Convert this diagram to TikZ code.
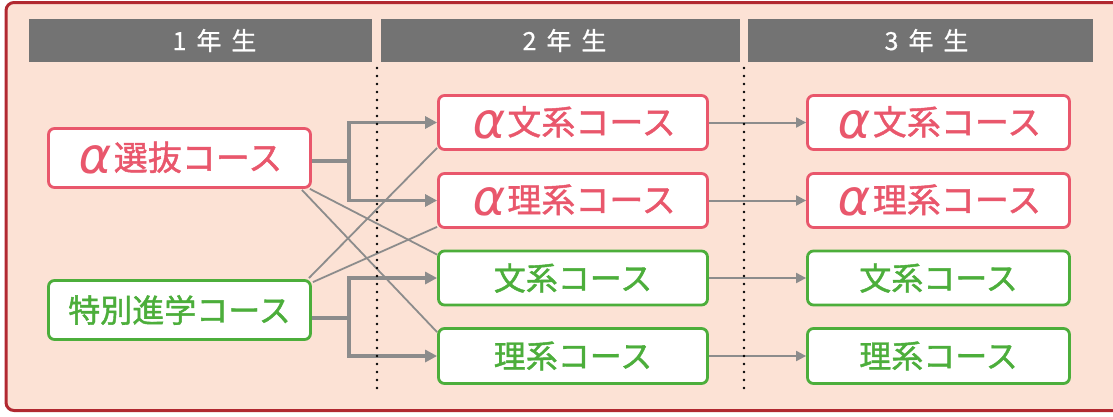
\documentclass[tikz,border=0pt]{standalone}
\usepackage{fontspec}
\setmainfont{Noto Sans CJK JP}
\newfontfamily\boxfont{Noto Sans CJK JP}[FakeBold=1.3]
\newfontfamily\hdrfont{Noto Sans CJK JP}[FakeBold=0.6]
\newfontfamily\alphafont{DejaVu Sans}[FakeSlant=0.18]
\usetikzlibrary{calc,arrows.meta}
\definecolor{pinkc}{HTML}{E9576C}
\definecolor{greenc}{HTML}{4CAE3B}
\definecolor{framec}{HTML}{B12830}
\definecolor{bgc}{HTML}{FCE2D5}
\definecolor{hdrc}{HTML}{737373}
\definecolor{connc}{HTML}{8C8C8C}
\newcommand\alp{{\alphafont\fontsize{50}{50}\selectfont\raisebox{-3.5pt}{α}}\hspace{4pt}}
\pgfdeclarelayer{bglayer}
\pgfdeclarelayer{midlayer}
\pgfsetlayers{bglayer,midlayer,main}
\begin{document}
\begin{tikzpicture}[x=1pt,y=-1pt,
  hdrbar/.style={fill=hdrc, text=white, minimum height=43pt, inner sep=0pt,
    font=\hdrfont\fontsize{25}{25}\selectfont},
  coursebox/.style={line width=2.8pt, fill=white, rounded corners=6pt, inner sep=0pt},
  pinkbox/.style={coursebox, draw=pinkc, text=pinkc, font=\boxfont\fontsize{34}{34}\selectfont},
  greenbox/.style={coursebox, draw=greenc, text=greenc, font=\boxfont\fontsize{32}{32}\selectfont},
  bigline/.style={draw=connc, line width=3.5pt},
  bigarrow/.style={bigline, -{Triangle[length=12pt,width=12pt]}},
  thinarrow/.style={draw=connc, line width=2pt, -{Triangle[length=10pt,width=10pt]}},
  diag/.style={draw=connc, line width=1.8pt},
  dotline/.style={draw=black, line width=2.6pt, dash pattern=on 0pt off 8pt, line cap=round}
]
\useasboundingbox (0,0) rectangle (1113,416);
\begin{pgfonlayer}{bglayer}
  \draw[framec, fill=bgc, line width=3pt, rounded corners=8pt] (6,2.5) rectangle (1125,410.5);
\end{pgfonlayer}

% headers
\node[hdrbar, minimum width=343pt] (h1) at (200.5,40.5) {\hspace*{28pt}1\hspace{0.4em}年\hspace{0.4em}生};
\node[hdrbar, minimum width=359pt] (h2) at (560.5,40.5) {\hspace*{8pt}2\hspace{0.4em}年\hspace{0.4em}生};
\node[hdrbar, minimum width=345pt] (h3) at (920.5,40.5) {\hspace*{12pt}3\hspace{0.4em}年\hspace{0.4em}生};

% year 1
\node[pinkbox, minimum width=262pt, minimum height=59pt] (a1) at (179.5,158) {\alp 選抜コース};
\node[greenbox, minimum width=262pt, minimum height=59pt] (t1) at (179.5,310) {特別進学コース};

% year 2
\node[pinkbox, minimum width=269pt, minimum height=54pt] (m1) at (573,122.5) {\alp 文系コース};
\node[pinkbox, minimum width=269pt, minimum height=54pt] (m2) at (573,200.5) {\alp 理系コース};
\node[greenbox, minimum width=269pt, minimum height=54pt] (m3) at (573,278) {文系コース};
\node[greenbox, minimum width=269pt, minimum height=55pt] (m4) at (573,356) {理系コース};

% year 3
\node[pinkbox, minimum width=262pt, minimum height=54pt] (r1) at (938.5,122.5) {\alp 文系コース};
\node[pinkbox, minimum width=262pt, minimum height=54pt] (r2) at (938.5,200.5) {\alp 理系コース};
\node[greenbox, minimum width=262pt, minimum height=54pt] (r3) at (938.5,278) {文系コース};
\node[greenbox, minimum width=262pt, minimum height=55pt] (r4) at (938.5,356) {理系コース};

\coordinate (e1) at (349,161);
\coordinate (e2) at (349,318);
\coordinate (d1t) at (377,68);
\coordinate (d1b) at (377,392);
\coordinate (d2t) at (744,68);
\coordinate (d2b) at (744,392);

\begin{pgfonlayer}{midlayer}
  % diagonals
  \draw[diag] ($(a1.south east)+(-10,1)$) -- ($(m4.north west)+(0,5)$);
  \draw[diag] ($(a1.south east)+(-2,0)$) -- ($(m3.north west)+(0,5)$);
  \draw[diag] ($(t1.north east)+(-3,-1)$) -- ($(m1.south west)+(0,-3)$);
  \draw[diag] ($(t1.north east)+(1,3)$) -- ($(m2.south west)+(0,-2)$);
  % elbows
  \draw[bigline] (a1.east |- e1) -- (e1);
  \draw[bigarrow] (e1) |- (m1.west);
  \draw[bigarrow] (e1) |- (m2.west);
  \draw[bigline] (t1.east |- e2) -- (e2);
  \draw[bigarrow] (e2) |- (m3.west);
  \draw[bigarrow] (e2) |- (m4.west);
  % to year 3
  \draw[thinarrow] (m1.east) -- (r1.west);
  \draw[thinarrow] (m2.east) -- (r2.west);
  \draw[thinarrow] (m3.east) -- (r3.west);
  \draw[thinarrow] (m4.east) -- (r4.west);
  % dotted separators
  \draw[dotline] (d1t) -- (d1b);
  \draw[dotline] (d2t) -- (d2b);
\end{pgfonlayer}
\end{tikzpicture}
\end{document}
